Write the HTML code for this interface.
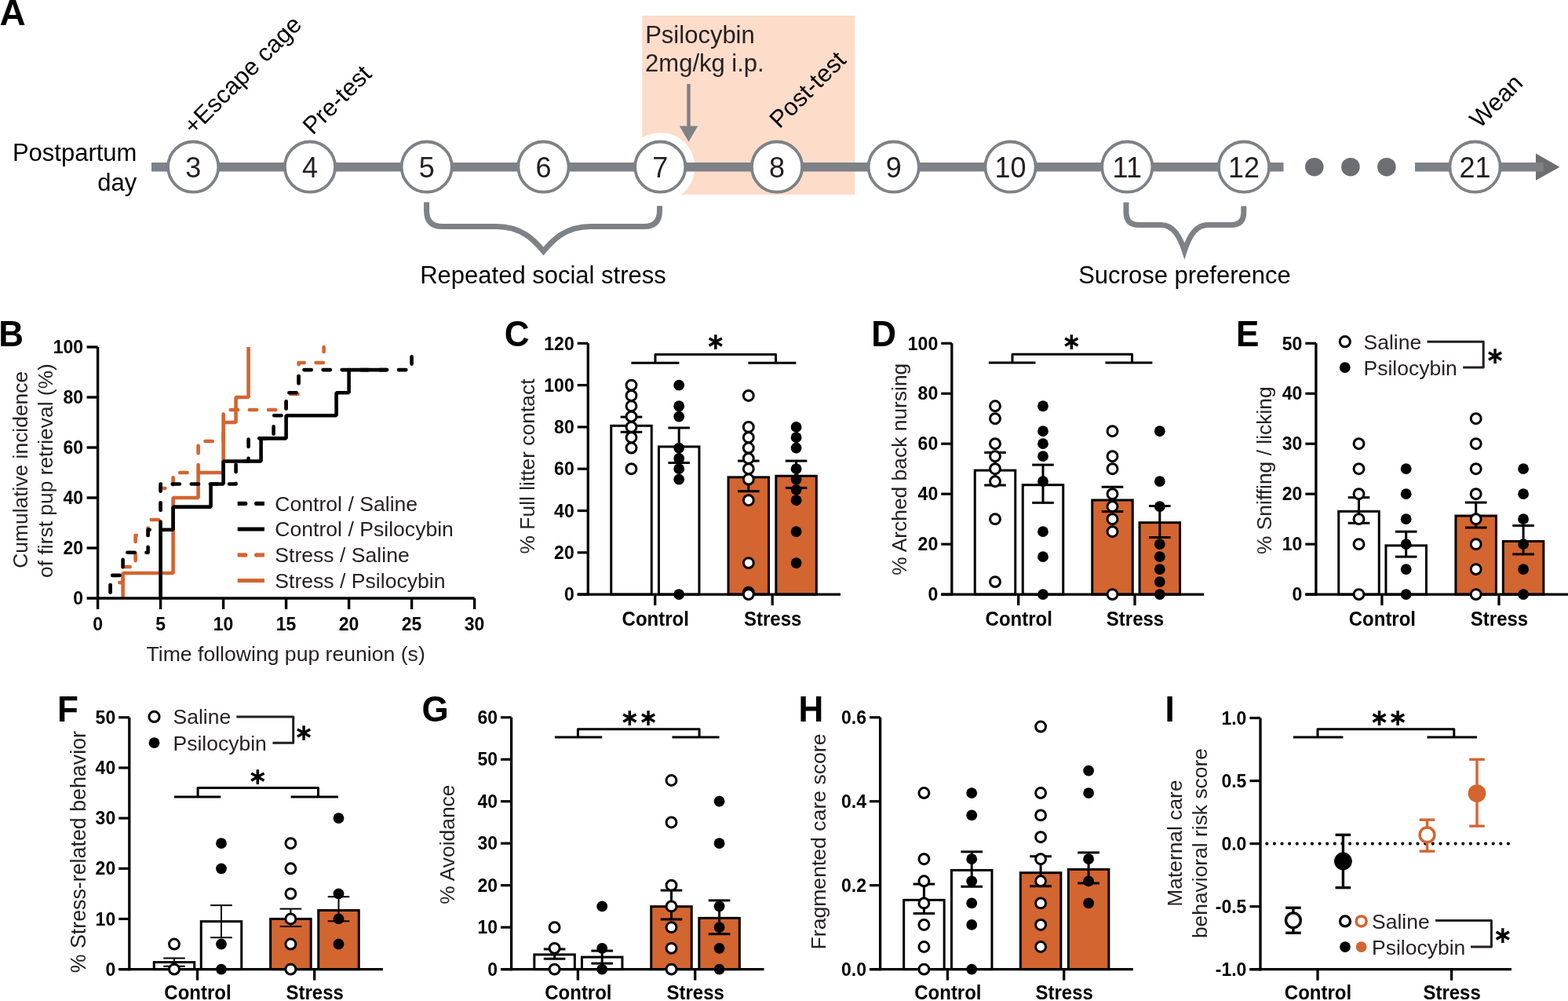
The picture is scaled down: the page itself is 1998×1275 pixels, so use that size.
<!DOCTYPE html>
<html><head><meta charset="utf-8"><title>Figure</title>
<style>
html,body{margin:0;padding:0;background:#fff;}
body{width:1998px;height:1275px;overflow:hidden;}
svg{display:block;font-family:'Liberation Sans', Arial, Helvetica, sans-serif;}
</style></head>
<body>
<svg width="1998" height="1275" viewBox="0 0 1998 1275">
<rect width="1998" height="1275" fill="#fff"/>
<text x="-0.6" y="31.7" font-size="46" font-weight="bold" fill="#000">A</text>
<rect x="818.2" y="20" width="270.8" height="228" fill="#fddcca"/>
<circle cx="841.74" cy="212.7" r="43.8" fill="#fff"/>
<line x1="193" y1="212.7" x2="1635.5" y2="212.7" stroke="#7e8186" stroke-width="11.5" stroke-linecap="butt"/>
<path d="M1957 195.6 L1987.5 212.7 L1957 229.8 Z" fill="#6d6e71"/>
<line x1="1803" y1="212.7" x2="1966.7" y2="212.7" stroke="#7e8186" stroke-width="11.5" stroke-linecap="butt"/>
<circle cx="1674.8" cy="212.7" r="11.8" fill="#6d6e71"/>
<circle cx="1720.9" cy="212.7" r="11.8" fill="#6d6e71"/>
<circle cx="1766.9" cy="212.7" r="11.8" fill="#6d6e71"/>
<circle cx="246.2" cy="212.6" r="32.1" fill="#fff" stroke="#7e8186" stroke-width="3.8"/>
<text x="246.2" y="225.5" font-size="36" text-anchor="middle" fill="#231f20">3</text>
<circle cx="394.96" cy="212.6" r="32.1" fill="#fff" stroke="#7e8186" stroke-width="3.8"/>
<text x="394.96" y="225.5" font-size="36" text-anchor="middle" fill="#231f20">4</text>
<circle cx="543.72" cy="212.6" r="32.1" fill="#fff" stroke="#7e8186" stroke-width="3.8"/>
<text x="543.72" y="225.5" font-size="36" text-anchor="middle" fill="#231f20">5</text>
<circle cx="692.48" cy="212.6" r="32.1" fill="#fff" stroke="#7e8186" stroke-width="3.8"/>
<text x="692.48" y="225.5" font-size="36" text-anchor="middle" fill="#231f20">6</text>
<circle cx="841.24" cy="212.6" r="32.1" fill="#fff" stroke="#7e8186" stroke-width="3.8"/>
<text x="841.24" y="225.5" font-size="36" text-anchor="middle" fill="#231f20">7</text>
<circle cx="990" cy="212.6" r="32.1" fill="#fff" stroke="#7e8186" stroke-width="3.8"/>
<text x="990" y="225.5" font-size="36" text-anchor="middle" fill="#231f20">8</text>
<circle cx="1138.76" cy="212.6" r="32.1" fill="#fff" stroke="#7e8186" stroke-width="3.8"/>
<text x="1138.76" y="225.5" font-size="36" text-anchor="middle" fill="#231f20">9</text>
<circle cx="1287.52" cy="212.6" r="32.1" fill="#fff" stroke="#7e8186" stroke-width="3.8"/>
<text x="1287.52" y="225.5" font-size="36" text-anchor="middle" fill="#231f20">10</text>
<circle cx="1436.28" cy="212.6" r="32.1" fill="#fff" stroke="#7e8186" stroke-width="3.8"/>
<text x="1436.28" y="225.5" font-size="36" text-anchor="middle" fill="#231f20">11</text>
<circle cx="1585.04" cy="212.6" r="32.1" fill="#fff" stroke="#7e8186" stroke-width="3.8"/>
<text x="1585.04" y="225.5" font-size="36" text-anchor="middle" fill="#231f20">12</text>
<circle cx="1879.5" cy="212.6" r="32.1" fill="#fff" stroke="#7e8186" stroke-width="3.8"/>
<text x="1879.5" y="225.5" font-size="36" text-anchor="middle" fill="#231f20">21</text>
<text x="15.9" y="204.5" font-size="31" fill="#000">Postpartum</text>
<text x="124.3" y="242.6" font-size="31" fill="#000">day</text>
<text x="0" y="0" font-size="31" fill="#000" transform="translate(246.7 172.7) rotate(-45)">+Escape cage</text>
<text x="0" y="0" font-size="31" fill="#000" transform="translate(398.4 172.8) rotate(-45)">Pre-test</text>
<text x="0" y="0" font-size="31" fill="#000" transform="translate(993.2 164.8) rotate(-45)">Post-test</text>
<text x="0" y="0" font-size="31" fill="#000" transform="translate(1885.4 164.5) rotate(-45)">Wean</text>
<text x="822.2" y="54.8" font-size="31" fill="#231f20">Psilocybin</text>
<text x="822.1" y="91.4" font-size="31" fill="#231f20">2mg/kg i.p.</text>
<line x1="877.5" y1="107" x2="877.5" y2="163" stroke="#7e8186" stroke-width="4.4" stroke-linecap="butt"/>
<path d="M865.8 160.6 L889.2 160.6 L877.5 180.5 Z" fill="#7e8186"/>
<path d="M543.6 257.4 V268.5 Q543.6 288.5 563.6 288.5 H632.5 C665.5 288.5 681.36 306.73 692.5 320 C703.64 306.73 719.5 288.5 752.5 288.5 H820.5 Q840.5 288.5 840.5 268.5 V262.3" stroke="#7e8186" stroke-width="7" fill="none" stroke-linejoin="miter" stroke-miterlimit="30"/>
<path d="M1435 257.8 V270.5 Q1435 286.5 1451 286.5 H1479.3 C1495.8 286.5 1503.69 302.24 1509.3 319.5 C1514.91 302.24 1522.8 286.5 1539.3 286.5 H1568.8 Q1584.8 286.5 1584.8 270.5 V262.5" stroke="#7e8186" stroke-width="7" fill="none" stroke-linejoin="miter" stroke-miterlimit="30"/>
<text x="535.2" y="361.1" font-size="31" fill="#000">Repeated social stress</text>
<text x="1374.2" y="360.8" font-size="31" fill="#000">Sucrose preference</text>
<text x="0" y="0" font-size="44" font-weight="bold" fill="#000" transform="translate(-1.8 440.8) scale(1 1.04)">B</text>
<text x="0" y="0" font-size="23" font-weight="bold" text-anchor="end" fill="#000" transform="translate(106 770.2) scale(1 1.05)">0</text>
<text x="0" y="0" font-size="23" font-weight="bold" text-anchor="end" fill="#000" transform="translate(106 706.2) scale(1 1.05)">20</text>
<text x="0" y="0" font-size="23" font-weight="bold" text-anchor="end" fill="#000" transform="translate(106 642.2) scale(1 1.05)">40</text>
<text x="0" y="0" font-size="23" font-weight="bold" text-anchor="end" fill="#000" transform="translate(106 578.2) scale(1 1.05)">60</text>
<text x="0" y="0" font-size="23" font-weight="bold" text-anchor="end" fill="#000" transform="translate(106 514.2) scale(1 1.05)">80</text>
<text x="0" y="0" font-size="23" font-weight="bold" text-anchor="end" fill="#000" transform="translate(106 450.2) scale(1 1.05)">100</text>
<text x="0" y="0" font-size="23" font-weight="bold" text-anchor="middle" fill="#000" transform="translate(124.6 802.8) scale(1 1.05)">0</text>
<text x="0" y="0" font-size="23" font-weight="bold" text-anchor="middle" fill="#000" transform="translate(204.6 802.8) scale(1 1.05)">5</text>
<text x="0" y="0" font-size="23" font-weight="bold" text-anchor="middle" fill="#000" transform="translate(284.6 802.8) scale(1 1.05)">10</text>
<text x="0" y="0" font-size="23" font-weight="bold" text-anchor="middle" fill="#000" transform="translate(364.6 802.8) scale(1 1.05)">15</text>
<text x="0" y="0" font-size="23" font-weight="bold" text-anchor="middle" fill="#000" transform="translate(444.6 802.8) scale(1 1.05)">20</text>
<text x="0" y="0" font-size="23" font-weight="bold" text-anchor="middle" fill="#000" transform="translate(524.6 802.8) scale(1 1.05)">25</text>
<text x="0" y="0" font-size="23" font-weight="bold" text-anchor="middle" fill="#000" transform="translate(604.6 802.8) scale(1 1.05)">30</text>
<text x="186.5" y="842.4" font-size="26.6" fill="#231f20">Time following pup reunion (s)</text>
<text x="0" y="0" font-size="26.4" text-anchor="middle" fill="#231f20" transform="translate(35.2 598.3) rotate(-90)">Cumulative incidence</text>
<text x="0" y="0" font-size="26.4" text-anchor="middle" fill="#231f20" transform="translate(67.2 599.5) rotate(-90)">of first pup retrieval (%)</text>
<path d="M140.6 762 V742 H156.6 V722 H172.6 V682 H188.6 V662 H204.6 V622 H220.6 V602 H252.6 V562 H284.6 V522 H364.6 V502 H380.6 V462 H412.6 V442" stroke="#d36530" stroke-width="4.6" fill="none" stroke-dasharray="9.3 14.8" stroke-dashoffset="16.5" stroke-linecap="round" stroke-linejoin="round"/>
<path d="M156.6 762 V730 H220.6 V634 H252.6 V602 H284.6 V538 H300.6 V506 H316.6 V442" stroke="#d36530" stroke-width="4.6" fill="none" stroke-linejoin="bevel"/>
<path d="M140.6 762 V732.91 H156.6 V703.82 H188.6 V674.74 H204.6 V616.56 H300.6 V587.44 H316.6 V558.35 H348.6 V529.26 H364.6 V500.18 H380.6 V471.09 H524.6 V442" stroke="#000" stroke-width="4.6" fill="none" stroke-dasharray="9.3 14.8" stroke-dashoffset="16.5" stroke-linecap="round" stroke-linejoin="round"/>
<path d="M204.6 762 V674.74 H220.6 V645.65 H268.6 V616.56 H284.6 V587.44 H332.6 V558.35 H364.6 V529.26 H428.6 V500.18 H444.6 V471.09 H492.6" stroke="#000" stroke-width="4.6" fill="none" stroke-linejoin="bevel"/>
<line x1="124.6" y1="442" x2="124.6" y2="776" stroke="#000" stroke-width="3.4" stroke-linecap="butt"/>
<line x1="110.6" y1="762" x2="604.6" y2="762" stroke="#000" stroke-width="3.4" stroke-linecap="butt"/>
<line x1="110.6" y1="698" x2="124.6" y2="698" stroke="#000" stroke-width="3.4" stroke-linecap="butt"/>
<line x1="110.6" y1="634" x2="124.6" y2="634" stroke="#000" stroke-width="3.4" stroke-linecap="butt"/>
<line x1="110.6" y1="570" x2="124.6" y2="570" stroke="#000" stroke-width="3.4" stroke-linecap="butt"/>
<line x1="110.6" y1="506" x2="124.6" y2="506" stroke="#000" stroke-width="3.4" stroke-linecap="butt"/>
<line x1="110.6" y1="442" x2="124.6" y2="442" stroke="#000" stroke-width="3.4" stroke-linecap="butt"/>
<line x1="204.6" y1="762" x2="204.6" y2="776" stroke="#000" stroke-width="3.4" stroke-linecap="butt"/>
<line x1="284.6" y1="762" x2="284.6" y2="776" stroke="#000" stroke-width="3.4" stroke-linecap="butt"/>
<line x1="364.6" y1="762" x2="364.6" y2="776" stroke="#000" stroke-width="3.4" stroke-linecap="butt"/>
<line x1="444.6" y1="762" x2="444.6" y2="776" stroke="#000" stroke-width="3.4" stroke-linecap="butt"/>
<line x1="524.6" y1="762" x2="524.6" y2="776" stroke="#000" stroke-width="3.4" stroke-linecap="butt"/>
<line x1="604.6" y1="762" x2="604.6" y2="776" stroke="#000" stroke-width="3.4" stroke-linecap="butt"/>
<line x1="302.7" y1="641.4" x2="312.7" y2="641.4" stroke="#000" stroke-width="5.2" stroke-linecap="butt"/>
<circle cx="312.7" cy="641.4" r="2.6" fill="#000"/>
<line x1="326.7" y1="641.4" x2="336.9" y2="641.4" stroke="#000" stroke-width="5.2" stroke-linecap="butt"/>
<circle cx="326.7" cy="641.4" r="2.6" fill="#000"/>
<line x1="302.7" y1="674" x2="336.9" y2="674" stroke="#000" stroke-width="5.2" stroke-linecap="butt"/>
<line x1="302.7" y1="706.9" x2="312.7" y2="706.9" stroke="#d36530" stroke-width="5.2" stroke-linecap="butt"/>
<circle cx="312.7" cy="706.9" r="2.6" fill="#d36530"/>
<line x1="326.7" y1="706.9" x2="336.9" y2="706.9" stroke="#d36530" stroke-width="5.2" stroke-linecap="butt"/>
<circle cx="326.7" cy="706.9" r="2.6" fill="#d36530"/>
<line x1="302.7" y1="739.5" x2="336.9" y2="739.5" stroke="#d36530" stroke-width="5.2" stroke-linecap="butt"/>
<text x="350.3" y="650.8" font-size="26.6" fill="#231f20">Control / Saline</text>
<text x="350.3" y="683.4" font-size="26.6" fill="#231f20">Control / Psilocybin</text>
<text x="350.3" y="716.3" font-size="26.6" fill="#231f20">Stress / Saline</text>
<text x="350.3" y="748.9" font-size="26.6" fill="#231f20">Stress / Psilocybin</text>
<text x="0" y="0" font-size="44" font-weight="bold" fill="#000" transform="translate(642.8 441) scale(1 1.04)">C</text>
<rect x="778.75" y="542.3" width="51.5" height="214.8" fill="#fff" stroke="#000" stroke-width="3"/>
<rect x="839.45" y="568.95" width="51.5" height="188.15" fill="#fff" stroke="#000" stroke-width="3"/>
<rect x="928.05" y="607.86" width="51.5" height="149.24" fill="#d36530" stroke="#000" stroke-width="3"/>
<rect x="988.85" y="606.26" width="51.5" height="150.84" fill="#d36530" stroke="#000" stroke-width="3"/>
<line x1="749.3" y1="437.3" x2="749.3" y2="758.8" stroke="#000" stroke-width="3.3" stroke-linecap="butt"/>
<line x1="735.7" y1="757.1" x2="1071" y2="757.1" stroke="#000" stroke-width="3.3" stroke-linecap="butt"/>
<line x1="735.7" y1="757.1" x2="749.3" y2="757.1" stroke="#000" stroke-width="3.2" stroke-linecap="butt"/>
<text x="0" y="0" font-size="23" font-weight="bold" text-anchor="end" fill="#000" transform="translate(731.7 765.3) scale(1 1.05)">0</text>
<line x1="735.7" y1="703.8" x2="749.3" y2="703.8" stroke="#000" stroke-width="3.2" stroke-linecap="butt"/>
<text x="0" y="0" font-size="23" font-weight="bold" text-anchor="end" fill="#000" transform="translate(731.7 712) scale(1 1.05)">20</text>
<line x1="735.7" y1="650.5" x2="749.3" y2="650.5" stroke="#000" stroke-width="3.2" stroke-linecap="butt"/>
<text x="0" y="0" font-size="23" font-weight="bold" text-anchor="end" fill="#000" transform="translate(731.7 658.7) scale(1 1.05)">40</text>
<line x1="735.7" y1="597.2" x2="749.3" y2="597.2" stroke="#000" stroke-width="3.2" stroke-linecap="butt"/>
<text x="0" y="0" font-size="23" font-weight="bold" text-anchor="end" fill="#000" transform="translate(731.7 605.4) scale(1 1.05)">60</text>
<line x1="735.7" y1="543.9" x2="749.3" y2="543.9" stroke="#000" stroke-width="3.2" stroke-linecap="butt"/>
<text x="0" y="0" font-size="23" font-weight="bold" text-anchor="end" fill="#000" transform="translate(731.7 552.1) scale(1 1.05)">80</text>
<line x1="735.7" y1="490.6" x2="749.3" y2="490.6" stroke="#000" stroke-width="3.2" stroke-linecap="butt"/>
<text x="0" y="0" font-size="23" font-weight="bold" text-anchor="end" fill="#000" transform="translate(731.7 498.8) scale(1 1.05)">100</text>
<line x1="735.7" y1="437.3" x2="749.3" y2="437.3" stroke="#000" stroke-width="3.2" stroke-linecap="butt"/>
<text x="0" y="0" font-size="23" font-weight="bold" text-anchor="end" fill="#000" transform="translate(731.7 445.5) scale(1 1.05)">120</text>
<line x1="834.7" y1="757.1" x2="834.7" y2="771.1" stroke="#000" stroke-width="3.3" stroke-linecap="butt"/>
<text x="0" y="0" font-size="24" font-weight="bold" text-anchor="middle" fill="#000" transform="translate(835.2 797.1) scale(1 1.05)">Control</text>
<line x1="984.2" y1="757.1" x2="984.2" y2="771.1" stroke="#000" stroke-width="3.3" stroke-linecap="butt"/>
<text x="0" y="0" font-size="24" font-weight="bold" text-anchor="middle" fill="#000" transform="translate(984.7 797.1) scale(1 1.05)">Stress</text>
<line x1="804.5" y1="531.11" x2="804.5" y2="550.3" stroke="#000" stroke-width="3" stroke-linecap="butt"/>
<line x1="790.7" y1="531.11" x2="818.3" y2="531.11" stroke="#000" stroke-width="3" stroke-linecap="butt"/>
<line x1="790.7" y1="550.3" x2="818.3" y2="550.3" stroke="#000" stroke-width="3" stroke-linecap="butt"/>
<line x1="865.2" y1="544.97" x2="865.2" y2="589.47" stroke="#000" stroke-width="3" stroke-linecap="butt"/>
<line x1="851.4" y1="544.97" x2="879" y2="544.97" stroke="#000" stroke-width="3" stroke-linecap="butt"/>
<line x1="851.4" y1="589.47" x2="879" y2="589.47" stroke="#000" stroke-width="3" stroke-linecap="butt"/>
<line x1="953.8" y1="587.07" x2="953.8" y2="625.72" stroke="#000" stroke-width="3" stroke-linecap="butt"/>
<line x1="940" y1="587.07" x2="967.6" y2="587.07" stroke="#000" stroke-width="3" stroke-linecap="butt"/>
<line x1="940" y1="625.72" x2="967.6" y2="625.72" stroke="#000" stroke-width="3" stroke-linecap="butt"/>
<line x1="1014.6" y1="587.07" x2="1014.6" y2="621.45" stroke="#000" stroke-width="3" stroke-linecap="butt"/>
<line x1="1000.8" y1="587.07" x2="1028.4" y2="587.07" stroke="#000" stroke-width="3" stroke-linecap="butt"/>
<line x1="1000.8" y1="621.45" x2="1028.4" y2="621.45" stroke="#000" stroke-width="3" stroke-linecap="butt"/>
<circle cx="804.5" cy="490.6" r="6.45" fill="#fff" stroke="#000" stroke-width="3"/>
<circle cx="804.5" cy="503.93" r="6.45" fill="#fff" stroke="#000" stroke-width="3"/>
<circle cx="804.5" cy="517.25" r="6.45" fill="#fff" stroke="#000" stroke-width="3"/>
<circle cx="804.5" cy="530.58" r="6.45" fill="#fff" stroke="#000" stroke-width="3"/>
<circle cx="804.5" cy="543.9" r="6.45" fill="#fff" stroke="#000" stroke-width="3"/>
<circle cx="804.5" cy="557.23" r="6.45" fill="#fff" stroke="#000" stroke-width="3"/>
<circle cx="804.5" cy="570.55" r="6.45" fill="#fff" stroke="#000" stroke-width="3"/>
<circle cx="804.5" cy="597.2" r="6.45" fill="#fff" stroke="#000" stroke-width="3"/>
<circle cx="865.2" cy="490.6" r="6.9" fill="#000"/>
<circle cx="865.2" cy="517.25" r="6.9" fill="#000"/>
<circle cx="865.2" cy="530.58" r="6.9" fill="#000"/>
<circle cx="865.2" cy="570.55" r="6.9" fill="#000"/>
<circle cx="865.2" cy="583.88" r="6.9" fill="#000"/>
<circle cx="865.2" cy="597.2" r="6.9" fill="#000"/>
<circle cx="865.2" cy="610.53" r="6.9" fill="#000"/>
<circle cx="865.2" cy="757.1" r="6.9" fill="#000"/>
<circle cx="953.8" cy="503.93" r="6.45" fill="#fff" stroke="#000" stroke-width="3"/>
<circle cx="953.8" cy="543.9" r="6.45" fill="#fff" stroke="#000" stroke-width="3"/>
<circle cx="953.8" cy="557.23" r="6.45" fill="#fff" stroke="#000" stroke-width="3"/>
<circle cx="953.8" cy="570.55" r="6.45" fill="#fff" stroke="#000" stroke-width="3"/>
<circle cx="953.8" cy="583.88" r="6.45" fill="#fff" stroke="#000" stroke-width="3"/>
<circle cx="953.8" cy="597.2" r="6.45" fill="#fff" stroke="#000" stroke-width="3"/>
<circle cx="953.8" cy="610.53" r="6.45" fill="#fff" stroke="#000" stroke-width="3"/>
<circle cx="953.8" cy="637.18" r="6.45" fill="#fff" stroke="#000" stroke-width="3"/>
<circle cx="953.8" cy="717.12" r="6.45" fill="#fff" stroke="#000" stroke-width="3"/>
<circle cx="953.8" cy="754.7" r="6.45" fill="#fff" stroke="#000" stroke-width="3"/>
<circle cx="953.8" cy="757.1" r="6.45" fill="#fff" stroke="#000" stroke-width="3"/>
<circle cx="1014.6" cy="543.9" r="6.9" fill="#000"/>
<circle cx="1014.6" cy="557.23" r="6.9" fill="#000"/>
<circle cx="1014.6" cy="570.55" r="6.9" fill="#000"/>
<circle cx="1014.6" cy="597.2" r="6.9" fill="#000"/>
<circle cx="1014.6" cy="610.53" r="6.9" fill="#000"/>
<circle cx="1014.6" cy="623.85" r="6.9" fill="#000"/>
<circle cx="1014.6" cy="637.18" r="6.9" fill="#000"/>
<circle cx="1014.6" cy="677.15" r="6.9" fill="#000"/>
<circle cx="1014.6" cy="717.12" r="6.9" fill="#000"/>
<text x="0" y="0" font-size="26.4" text-anchor="middle" fill="#231f20" transform="translate(681.2 594) rotate(-90)">% Full litter contact</text>
<line x1="804.4" y1="462.3" x2="865.4" y2="462.3" stroke="#000" stroke-width="3" stroke-linecap="butt"/>
<line x1="953.4" y1="462.3" x2="1014.4" y2="462.3" stroke="#000" stroke-width="3" stroke-linecap="butt"/>
<path d="M835 462.3 V451.5 H988.5 V462.3" stroke="#000" stroke-width="3" fill="none" stroke-linejoin="round"/>
<text x="911.8" y="444.85" font-size="30" font-family="'DejaVu Sans', sans-serif" font-weight="bold" text-anchor="middle" fill="#000">&#8727;</text>
<text x="0" y="0" font-size="44" font-weight="bold" fill="#000" transform="translate(1110.2 441) scale(1 1.04)">D</text>
<rect x="1242.25" y="599.12" width="51.5" height="157.98" fill="#fff" stroke="#000" stroke-width="3"/>
<rect x="1303.25" y="617.67" width="51.5" height="139.43" fill="#fff" stroke="#000" stroke-width="3"/>
<rect x="1391.75" y="637.02" width="51.5" height="120.08" fill="#d36530" stroke="#000" stroke-width="3"/>
<rect x="1452.05" y="665.64" width="51.5" height="91.46" fill="#d36530" stroke="#000" stroke-width="3"/>
<line x1="1212.8" y1="437.3" x2="1212.8" y2="758.8" stroke="#000" stroke-width="3.3" stroke-linecap="butt"/>
<line x1="1199.2" y1="757.1" x2="1534.2" y2="757.1" stroke="#000" stroke-width="3.3" stroke-linecap="butt"/>
<line x1="1199.2" y1="757.1" x2="1212.8" y2="757.1" stroke="#000" stroke-width="3.2" stroke-linecap="butt"/>
<text x="0" y="0" font-size="23" font-weight="bold" text-anchor="end" fill="#000" transform="translate(1195.2 765.3) scale(1 1.05)">0</text>
<line x1="1199.2" y1="693.14" x2="1212.8" y2="693.14" stroke="#000" stroke-width="3.2" stroke-linecap="butt"/>
<text x="0" y="0" font-size="23" font-weight="bold" text-anchor="end" fill="#000" transform="translate(1195.2 701.34) scale(1 1.05)">20</text>
<line x1="1199.2" y1="629.18" x2="1212.8" y2="629.18" stroke="#000" stroke-width="3.2" stroke-linecap="butt"/>
<text x="0" y="0" font-size="23" font-weight="bold" text-anchor="end" fill="#000" transform="translate(1195.2 637.38) scale(1 1.05)">40</text>
<line x1="1199.2" y1="565.22" x2="1212.8" y2="565.22" stroke="#000" stroke-width="3.2" stroke-linecap="butt"/>
<text x="0" y="0" font-size="23" font-weight="bold" text-anchor="end" fill="#000" transform="translate(1195.2 573.42) scale(1 1.05)">60</text>
<line x1="1199.2" y1="501.26" x2="1212.8" y2="501.26" stroke="#000" stroke-width="3.2" stroke-linecap="butt"/>
<text x="0" y="0" font-size="23" font-weight="bold" text-anchor="end" fill="#000" transform="translate(1195.2 509.46) scale(1 1.05)">80</text>
<line x1="1199.2" y1="437.3" x2="1212.8" y2="437.3" stroke="#000" stroke-width="3.2" stroke-linecap="butt"/>
<text x="0" y="0" font-size="23" font-weight="bold" text-anchor="end" fill="#000" transform="translate(1195.2 445.5) scale(1 1.05)">100</text>
<line x1="1297.7" y1="757.1" x2="1297.7" y2="771.1" stroke="#000" stroke-width="3.3" stroke-linecap="butt"/>
<text x="0" y="0" font-size="24" font-weight="bold" text-anchor="middle" fill="#000" transform="translate(1298.2 797.1) scale(1 1.05)">Control</text>
<line x1="1446" y1="757.1" x2="1446" y2="771.1" stroke="#000" stroke-width="3.3" stroke-linecap="butt"/>
<text x="0" y="0" font-size="24" font-weight="bold" text-anchor="middle" fill="#000" transform="translate(1446.5 797.1) scale(1 1.05)">Stress</text>
<line x1="1268" y1="576.41" x2="1268" y2="617.99" stroke="#000" stroke-width="3" stroke-linecap="butt"/>
<line x1="1254.2" y1="576.41" x2="1281.8" y2="576.41" stroke="#000" stroke-width="3" stroke-linecap="butt"/>
<line x1="1254.2" y1="617.99" x2="1281.8" y2="617.99" stroke="#000" stroke-width="3" stroke-linecap="butt"/>
<line x1="1329" y1="592.08" x2="1329" y2="640.37" stroke="#000" stroke-width="3" stroke-linecap="butt"/>
<line x1="1315.2" y1="592.08" x2="1342.8" y2="592.08" stroke="#000" stroke-width="3" stroke-linecap="butt"/>
<line x1="1315.2" y1="640.37" x2="1342.8" y2="640.37" stroke="#000" stroke-width="3" stroke-linecap="butt"/>
<line x1="1417.5" y1="620.23" x2="1417.5" y2="651.57" stroke="#000" stroke-width="3" stroke-linecap="butt"/>
<line x1="1403.7" y1="620.23" x2="1431.3" y2="620.23" stroke="#000" stroke-width="3" stroke-linecap="butt"/>
<line x1="1403.7" y1="651.57" x2="1431.3" y2="651.57" stroke="#000" stroke-width="3" stroke-linecap="butt"/>
<line x1="1477.8" y1="644.53" x2="1477.8" y2="684.51" stroke="#000" stroke-width="3" stroke-linecap="butt"/>
<line x1="1464" y1="644.53" x2="1491.6" y2="644.53" stroke="#000" stroke-width="3" stroke-linecap="butt"/>
<line x1="1464" y1="684.51" x2="1491.6" y2="684.51" stroke="#000" stroke-width="3" stroke-linecap="butt"/>
<circle cx="1268" cy="517.25" r="6.45" fill="#fff" stroke="#000" stroke-width="3"/>
<circle cx="1268" cy="533.24" r="6.45" fill="#fff" stroke="#000" stroke-width="3"/>
<circle cx="1268" cy="565.22" r="6.45" fill="#fff" stroke="#000" stroke-width="3"/>
<circle cx="1268" cy="581.21" r="6.45" fill="#fff" stroke="#000" stroke-width="3"/>
<circle cx="1268" cy="597.2" r="6.45" fill="#fff" stroke="#000" stroke-width="3"/>
<circle cx="1268" cy="613.19" r="6.45" fill="#fff" stroke="#000" stroke-width="3"/>
<circle cx="1268" cy="661.16" r="6.45" fill="#fff" stroke="#000" stroke-width="3"/>
<circle cx="1268" cy="741.11" r="6.45" fill="#fff" stroke="#000" stroke-width="3"/>
<circle cx="1329" cy="517.25" r="6.9" fill="#000"/>
<circle cx="1329" cy="549.23" r="6.9" fill="#000"/>
<circle cx="1329" cy="565.22" r="6.9" fill="#000"/>
<circle cx="1329" cy="581.21" r="6.9" fill="#000"/>
<circle cx="1329" cy="613.19" r="6.9" fill="#000"/>
<circle cx="1329" cy="677.15" r="6.9" fill="#000"/>
<circle cx="1329" cy="709.13" r="6.9" fill="#000"/>
<circle cx="1329" cy="757.1" r="6.9" fill="#000"/>
<circle cx="1417.5" cy="549.23" r="6.45" fill="#fff" stroke="#000" stroke-width="3"/>
<circle cx="1417.5" cy="581.21" r="6.45" fill="#fff" stroke="#000" stroke-width="3"/>
<circle cx="1417.5" cy="597.2" r="6.45" fill="#fff" stroke="#000" stroke-width="3"/>
<circle cx="1417.5" cy="629.18" r="6.45" fill="#fff" stroke="#000" stroke-width="3"/>
<circle cx="1417.5" cy="645.17" r="6.45" fill="#fff" stroke="#000" stroke-width="3"/>
<circle cx="1417.5" cy="661.16" r="6.45" fill="#fff" stroke="#000" stroke-width="3"/>
<circle cx="1417.5" cy="677.15" r="6.45" fill="#fff" stroke="#000" stroke-width="3"/>
<circle cx="1417.5" cy="757.1" r="6.45" fill="#fff" stroke="#000" stroke-width="3"/>
<circle cx="1477.8" cy="549.23" r="6.9" fill="#000"/>
<circle cx="1477.8" cy="613.19" r="6.9" fill="#000"/>
<circle cx="1477.8" cy="645.17" r="6.9" fill="#000"/>
<circle cx="1477.8" cy="693.14" r="6.9" fill="#000"/>
<circle cx="1477.8" cy="709.13" r="6.9" fill="#000"/>
<circle cx="1477.8" cy="725.12" r="6.9" fill="#000"/>
<circle cx="1477.8" cy="741.11" r="6.9" fill="#000"/>
<circle cx="1477.8" cy="757.1" r="6.9" fill="#000"/>
<text x="0" y="0" font-size="26.4" text-anchor="middle" fill="#231f20" transform="translate(1155 597.7) rotate(-90)">% Arched back nursing</text>
<line x1="1259.8" y1="461.9" x2="1319.5" y2="461.9" stroke="#000" stroke-width="3" stroke-linecap="butt"/>
<line x1="1408.5" y1="461.9" x2="1468.4" y2="461.9" stroke="#000" stroke-width="3" stroke-linecap="butt"/>
<path d="M1290 461.9 V451.3 H1442.5 V461.9" stroke="#000" stroke-width="3" fill="none" stroke-linejoin="round"/>
<text x="1365.2" y="444.85" font-size="30" font-family="'DejaVu Sans', sans-serif" font-weight="bold" text-anchor="middle" fill="#000">&#8727;</text>
<text x="0" y="0" font-size="44" font-weight="bold" fill="#000" transform="translate(1575.1 441) scale(1 1.04)">E</text>
<rect x="1705.75" y="651.37" width="51.5" height="105.73" fill="#fff" stroke="#000" stroke-width="3"/>
<rect x="1765.95" y="694.87" width="51.5" height="62.23" fill="#fff" stroke="#000" stroke-width="3"/>
<rect x="1854.95" y="657" width="51.5" height="100.1" fill="#d36530" stroke="#000" stroke-width="3"/>
<rect x="1915.35" y="689.49" width="51.5" height="67.61" fill="#d36530" stroke="#000" stroke-width="3"/>
<line x1="1676.9" y1="437.3" x2="1676.9" y2="758.8" stroke="#000" stroke-width="3.3" stroke-linecap="butt"/>
<line x1="1663.3" y1="757.1" x2="2000" y2="757.1" stroke="#000" stroke-width="3.3" stroke-linecap="butt"/>
<line x1="1663.3" y1="757.1" x2="1676.9" y2="757.1" stroke="#000" stroke-width="3.2" stroke-linecap="butt"/>
<text x="0" y="0" font-size="23" font-weight="bold" text-anchor="end" fill="#000" transform="translate(1659.3 765.3) scale(1 1.05)">0</text>
<line x1="1663.3" y1="693.14" x2="1676.9" y2="693.14" stroke="#000" stroke-width="3.2" stroke-linecap="butt"/>
<text x="0" y="0" font-size="23" font-weight="bold" text-anchor="end" fill="#000" transform="translate(1659.3 701.34) scale(1 1.05)">10</text>
<line x1="1663.3" y1="629.18" x2="1676.9" y2="629.18" stroke="#000" stroke-width="3.2" stroke-linecap="butt"/>
<text x="0" y="0" font-size="23" font-weight="bold" text-anchor="end" fill="#000" transform="translate(1659.3 637.38) scale(1 1.05)">20</text>
<line x1="1663.3" y1="565.22" x2="1676.9" y2="565.22" stroke="#000" stroke-width="3.2" stroke-linecap="butt"/>
<text x="0" y="0" font-size="23" font-weight="bold" text-anchor="end" fill="#000" transform="translate(1659.3 573.42) scale(1 1.05)">30</text>
<line x1="1663.3" y1="501.26" x2="1676.9" y2="501.26" stroke="#000" stroke-width="3.2" stroke-linecap="butt"/>
<text x="0" y="0" font-size="23" font-weight="bold" text-anchor="end" fill="#000" transform="translate(1659.3 509.46) scale(1 1.05)">40</text>
<line x1="1663.3" y1="437.3" x2="1676.9" y2="437.3" stroke="#000" stroke-width="3.2" stroke-linecap="butt"/>
<text x="0" y="0" font-size="23" font-weight="bold" text-anchor="end" fill="#000" transform="translate(1659.3 445.5) scale(1 1.05)">50</text>
<line x1="1760.9" y1="757.1" x2="1760.9" y2="771.1" stroke="#000" stroke-width="3.3" stroke-linecap="butt"/>
<text x="0" y="0" font-size="24" font-weight="bold" text-anchor="middle" fill="#000" transform="translate(1761.4 797.1) scale(1 1.05)">Control</text>
<line x1="1910" y1="757.1" x2="1910" y2="771.1" stroke="#000" stroke-width="3.3" stroke-linecap="butt"/>
<text x="0" y="0" font-size="24" font-weight="bold" text-anchor="middle" fill="#000" transform="translate(1910.5 797.1) scale(1 1.05)">Stress</text>
<line x1="1731.5" y1="633.66" x2="1731.5" y2="666.28" stroke="#000" stroke-width="3" stroke-linecap="butt"/>
<line x1="1717.7" y1="633.66" x2="1745.3" y2="633.66" stroke="#000" stroke-width="3" stroke-linecap="butt"/>
<line x1="1717.7" y1="666.28" x2="1745.3" y2="666.28" stroke="#000" stroke-width="3" stroke-linecap="butt"/>
<line x1="1791.7" y1="677.15" x2="1791.7" y2="709.13" stroke="#000" stroke-width="3" stroke-linecap="butt"/>
<line x1="1777.9" y1="677.15" x2="1805.5" y2="677.15" stroke="#000" stroke-width="3" stroke-linecap="butt"/>
<line x1="1777.9" y1="709.13" x2="1805.5" y2="709.13" stroke="#000" stroke-width="3" stroke-linecap="butt"/>
<line x1="1880.7" y1="640.05" x2="1880.7" y2="672.03" stroke="#000" stroke-width="3" stroke-linecap="butt"/>
<line x1="1866.9" y1="640.05" x2="1894.5" y2="640.05" stroke="#000" stroke-width="3" stroke-linecap="butt"/>
<line x1="1866.9" y1="672.03" x2="1894.5" y2="672.03" stroke="#000" stroke-width="3" stroke-linecap="butt"/>
<line x1="1941.1" y1="669.47" x2="1941.1" y2="705.93" stroke="#000" stroke-width="3" stroke-linecap="butt"/>
<line x1="1927.3" y1="669.47" x2="1954.9" y2="669.47" stroke="#000" stroke-width="3" stroke-linecap="butt"/>
<line x1="1927.3" y1="705.93" x2="1954.9" y2="705.93" stroke="#000" stroke-width="3" stroke-linecap="butt"/>
<circle cx="1731.5" cy="565.22" r="6.45" fill="#fff" stroke="#000" stroke-width="3"/>
<circle cx="1731.5" cy="597.2" r="6.45" fill="#fff" stroke="#000" stroke-width="3"/>
<circle cx="1731.5" cy="629.18" r="6.45" fill="#fff" stroke="#000" stroke-width="3"/>
<circle cx="1731.5" cy="661.16" r="6.45" fill="#fff" stroke="#000" stroke-width="3"/>
<circle cx="1731.5" cy="693.14" r="6.45" fill="#fff" stroke="#000" stroke-width="3"/>
<circle cx="1731.5" cy="757.1" r="6.45" fill="#fff" stroke="#000" stroke-width="3"/>
<circle cx="1791.7" cy="597.2" r="6.9" fill="#000"/>
<circle cx="1791.7" cy="629.18" r="6.9" fill="#000"/>
<circle cx="1791.7" cy="661.16" r="6.9" fill="#000"/>
<circle cx="1791.7" cy="693.14" r="6.9" fill="#000"/>
<circle cx="1791.7" cy="725.12" r="6.9" fill="#000"/>
<circle cx="1791.7" cy="757.1" r="6.9" fill="#000"/>
<circle cx="1880.7" cy="533.24" r="6.45" fill="#fff" stroke="#000" stroke-width="3"/>
<circle cx="1880.7" cy="565.22" r="6.45" fill="#fff" stroke="#000" stroke-width="3"/>
<circle cx="1880.7" cy="597.2" r="6.45" fill="#fff" stroke="#000" stroke-width="3"/>
<circle cx="1880.7" cy="629.18" r="6.45" fill="#fff" stroke="#000" stroke-width="3"/>
<circle cx="1880.7" cy="661.16" r="6.45" fill="#fff" stroke="#000" stroke-width="3"/>
<circle cx="1880.7" cy="693.14" r="6.45" fill="#fff" stroke="#000" stroke-width="3"/>
<circle cx="1880.7" cy="725.12" r="6.45" fill="#fff" stroke="#000" stroke-width="3"/>
<circle cx="1880.7" cy="757.1" r="6.45" fill="#fff" stroke="#000" stroke-width="3"/>
<circle cx="1941.1" cy="597.2" r="6.9" fill="#000"/>
<circle cx="1941.1" cy="629.18" r="6.9" fill="#000"/>
<circle cx="1941.1" cy="661.16" r="6.9" fill="#000"/>
<circle cx="1941.1" cy="693.14" r="6.9" fill="#000"/>
<circle cx="1941.1" cy="725.12" r="6.9" fill="#000"/>
<circle cx="1941.1" cy="757.1" r="6.9" fill="#000"/>
<text x="0" y="0" font-size="26.4" text-anchor="middle" fill="#231f20" transform="translate(1619.5 599.2) rotate(-90)">% Sniffing / licking</text>
<circle cx="1713.8" cy="435.2" r="6.6" fill="#fff" stroke="#000" stroke-width="3"/>
<circle cx="1713.8" cy="468.1" r="6.9" fill="#000"/>
<text x="1737.5" y="444.5" font-size="26.5" fill="#231f20">Saline</text>
<text x="1737.5" y="477.5" font-size="26.5" fill="#231f20">Psilocybin</text>
<path d="M1818.5 435.2 H1890.2 V468.1 H1864.2" stroke="#231f20" stroke-width="3" fill="none" stroke-linejoin="round"/>
<text x="1905" y="462.85" font-size="30" font-family="'DejaVu Sans', sans-serif" font-weight="bold" text-anchor="middle" fill="#000">&#8727;</text>
<text x="0" y="0" font-size="44" font-weight="bold" fill="#000" transform="translate(73.1 918.8) scale(1 1.04)">F</text>
<rect x="196.25" y="1225.62" width="51.5" height="8.98" fill="#fff" stroke="#000" stroke-width="3"/>
<rect x="256.25" y="1173.65" width="51.5" height="60.95" fill="#fff" stroke="#000" stroke-width="3"/>
<rect x="344.65" y="1170.44" width="51.5" height="64.16" fill="#d36530" stroke="#000" stroke-width="3"/>
<rect x="405.75" y="1159.53" width="51.5" height="75.07" fill="#d36530" stroke="#000" stroke-width="3"/>
<line x1="164.8" y1="913.8" x2="164.8" y2="1236.3" stroke="#000" stroke-width="3.3" stroke-linecap="butt"/>
<line x1="151.2" y1="1234.6" x2="487.9" y2="1234.6" stroke="#000" stroke-width="3.3" stroke-linecap="butt"/>
<line x1="151.2" y1="1234.6" x2="164.8" y2="1234.6" stroke="#000" stroke-width="3.2" stroke-linecap="butt"/>
<text x="0" y="0" font-size="23" font-weight="bold" text-anchor="end" fill="#000" transform="translate(147.2 1242.8) scale(1 1.05)">0</text>
<line x1="151.2" y1="1170.44" x2="164.8" y2="1170.44" stroke="#000" stroke-width="3.2" stroke-linecap="butt"/>
<text x="0" y="0" font-size="23" font-weight="bold" text-anchor="end" fill="#000" transform="translate(147.2 1178.64) scale(1 1.05)">10</text>
<line x1="151.2" y1="1106.28" x2="164.8" y2="1106.28" stroke="#000" stroke-width="3.2" stroke-linecap="butt"/>
<text x="0" y="0" font-size="23" font-weight="bold" text-anchor="end" fill="#000" transform="translate(147.2 1114.48) scale(1 1.05)">20</text>
<line x1="151.2" y1="1042.12" x2="164.8" y2="1042.12" stroke="#000" stroke-width="3.2" stroke-linecap="butt"/>
<text x="0" y="0" font-size="23" font-weight="bold" text-anchor="end" fill="#000" transform="translate(147.2 1050.32) scale(1 1.05)">30</text>
<line x1="151.2" y1="977.96" x2="164.8" y2="977.96" stroke="#000" stroke-width="3.2" stroke-linecap="butt"/>
<text x="0" y="0" font-size="23" font-weight="bold" text-anchor="end" fill="#000" transform="translate(147.2 986.16) scale(1 1.05)">40</text>
<line x1="151.2" y1="913.8" x2="164.8" y2="913.8" stroke="#000" stroke-width="3.2" stroke-linecap="butt"/>
<text x="0" y="0" font-size="23" font-weight="bold" text-anchor="end" fill="#000" transform="translate(147.2 922) scale(1 1.05)">50</text>
<line x1="251.5" y1="1234.6" x2="251.5" y2="1248.6" stroke="#000" stroke-width="3.3" stroke-linecap="butt"/>
<text x="0" y="0" font-size="24" font-weight="bold" text-anchor="middle" fill="#000" transform="translate(252 1272.7) scale(1 1.05)">Control</text>
<line x1="400.7" y1="1234.6" x2="400.7" y2="1248.6" stroke="#000" stroke-width="3.3" stroke-linecap="butt"/>
<text x="0" y="0" font-size="24" font-weight="bold" text-anchor="middle" fill="#000" transform="translate(401.2 1272.7) scale(1 1.05)">Stress</text>
<line x1="222" y1="1220.48" x2="222" y2="1230.75" stroke="#000" stroke-width="2" stroke-linecap="butt"/>
<line x1="208.2" y1="1220.48" x2="235.8" y2="1220.48" stroke="#000" stroke-width="2" stroke-linecap="butt"/>
<line x1="208.2" y1="1230.75" x2="235.8" y2="1230.75" stroke="#000" stroke-width="2" stroke-linecap="butt"/>
<line x1="282" y1="1153.12" x2="282" y2="1194.18" stroke="#000" stroke-width="2" stroke-linecap="butt"/>
<line x1="268.2" y1="1153.12" x2="295.8" y2="1153.12" stroke="#000" stroke-width="2" stroke-linecap="butt"/>
<line x1="268.2" y1="1194.18" x2="295.8" y2="1194.18" stroke="#000" stroke-width="2" stroke-linecap="butt"/>
<line x1="370.4" y1="1157.61" x2="370.4" y2="1180.06" stroke="#000" stroke-width="2" stroke-linecap="butt"/>
<line x1="356.6" y1="1157.61" x2="384.2" y2="1157.61" stroke="#000" stroke-width="2" stroke-linecap="butt"/>
<line x1="356.6" y1="1180.06" x2="384.2" y2="1180.06" stroke="#000" stroke-width="2" stroke-linecap="butt"/>
<line x1="431.5" y1="1142.21" x2="431.5" y2="1173.33" stroke="#000" stroke-width="2" stroke-linecap="butt"/>
<line x1="417.7" y1="1142.21" x2="445.3" y2="1142.21" stroke="#000" stroke-width="2" stroke-linecap="butt"/>
<line x1="417.7" y1="1173.33" x2="445.3" y2="1173.33" stroke="#000" stroke-width="2" stroke-linecap="butt"/>
<circle cx="222" cy="1202.52" r="6.45" fill="#fff" stroke="#000" stroke-width="3"/>
<circle cx="222" cy="1234.6" r="6.45" fill="#fff" stroke="#000" stroke-width="3"/>
<circle cx="282" cy="1074.2" r="6.9" fill="#000"/>
<circle cx="282" cy="1106.28" r="6.9" fill="#000"/>
<circle cx="282" cy="1202.52" r="6.9" fill="#000"/>
<circle cx="282" cy="1234.6" r="6.9" fill="#000"/>
<circle cx="370.4" cy="1074.2" r="6.45" fill="#fff" stroke="#000" stroke-width="3"/>
<circle cx="370.4" cy="1106.28" r="6.45" fill="#fff" stroke="#000" stroke-width="3"/>
<circle cx="370.4" cy="1138.36" r="6.45" fill="#fff" stroke="#000" stroke-width="3"/>
<circle cx="370.4" cy="1170.44" r="6.45" fill="#fff" stroke="#000" stroke-width="3"/>
<circle cx="370.4" cy="1202.52" r="6.45" fill="#fff" stroke="#000" stroke-width="3"/>
<circle cx="370.4" cy="1234.6" r="6.45" fill="#fff" stroke="#000" stroke-width="3"/>
<circle cx="431.5" cy="1042.12" r="6.9" fill="#000"/>
<circle cx="431.5" cy="1138.36" r="6.9" fill="#000"/>
<circle cx="431.5" cy="1170.44" r="6.9" fill="#000"/>
<circle cx="431.5" cy="1202.52" r="6.9" fill="#000"/>
<text x="0" y="0" font-size="26.8" text-anchor="middle" fill="#231f20" transform="translate(108.7 1085.2) rotate(-90)">% Stress-related behavior</text>
<line x1="222" y1="1015.1" x2="281.3" y2="1015.1" stroke="#000" stroke-width="3" stroke-linecap="butt"/>
<line x1="370.6" y1="1015.1" x2="430.9" y2="1015.1" stroke="#000" stroke-width="3" stroke-linecap="butt"/>
<path d="M252.1 1015.1 V1003.4 H405.5 V1015.1" stroke="#000" stroke-width="3" fill="none" stroke-linejoin="round"/>
<text x="328.3" y="998.95" font-size="30" font-family="'DejaVu Sans', sans-serif" font-weight="bold" text-anchor="middle" fill="#000">&#8727;</text>
<circle cx="196.5" cy="912.9" r="6.6" fill="#fff" stroke="#000" stroke-width="3"/>
<circle cx="196.5" cy="946.2" r="6.9" fill="#000"/>
<text x="220.5" y="922.2" font-size="26.5" fill="#231f20">Saline</text>
<text x="220.5" y="955.6" font-size="26.5" fill="#231f20">Psilocybin</text>
<path d="M301.3 912.9 H373.7 V946.2 H347.4" stroke="#231f20" stroke-width="3" fill="none" stroke-linejoin="round"/>
<text x="387" y="942.95" font-size="30" font-family="'DejaVu Sans', sans-serif" font-weight="bold" text-anchor="middle" fill="#000">&#8727;</text>
<text x="0" y="0" font-size="44" font-weight="bold" fill="#000" transform="translate(537.5 918.8) scale(1 1.04)">G</text>
<rect x="680.85" y="1215.89" width="51.5" height="18.71" fill="#fff" stroke="#000" stroke-width="3"/>
<rect x="741.45" y="1219.09" width="51.5" height="15.51" fill="#fff" stroke="#000" stroke-width="3"/>
<rect x="829.75" y="1154.67" width="51.5" height="79.93" fill="#d36530" stroke="#000" stroke-width="3"/>
<rect x="890.85" y="1169.37" width="51.5" height="65.23" fill="#d36530" stroke="#000" stroke-width="3"/>
<line x1="651.6" y1="913.8" x2="651.6" y2="1236.3" stroke="#000" stroke-width="3.3" stroke-linecap="butt"/>
<line x1="638" y1="1234.6" x2="973.5" y2="1234.6" stroke="#000" stroke-width="3.3" stroke-linecap="butt"/>
<line x1="638" y1="1234.6" x2="651.6" y2="1234.6" stroke="#000" stroke-width="3.2" stroke-linecap="butt"/>
<text x="0" y="0" font-size="23" font-weight="bold" text-anchor="end" fill="#000" transform="translate(634 1242.8) scale(1 1.05)">0</text>
<line x1="638" y1="1181.13" x2="651.6" y2="1181.13" stroke="#000" stroke-width="3.2" stroke-linecap="butt"/>
<text x="0" y="0" font-size="23" font-weight="bold" text-anchor="end" fill="#000" transform="translate(634 1189.33) scale(1 1.05)">10</text>
<line x1="638" y1="1127.67" x2="651.6" y2="1127.67" stroke="#000" stroke-width="3.2" stroke-linecap="butt"/>
<text x="0" y="0" font-size="23" font-weight="bold" text-anchor="end" fill="#000" transform="translate(634 1135.87) scale(1 1.05)">20</text>
<line x1="638" y1="1074.2" x2="651.6" y2="1074.2" stroke="#000" stroke-width="3.2" stroke-linecap="butt"/>
<text x="0" y="0" font-size="23" font-weight="bold" text-anchor="end" fill="#000" transform="translate(634 1082.4) scale(1 1.05)">30</text>
<line x1="638" y1="1020.73" x2="651.6" y2="1020.73" stroke="#000" stroke-width="3.2" stroke-linecap="butt"/>
<text x="0" y="0" font-size="23" font-weight="bold" text-anchor="end" fill="#000" transform="translate(634 1028.93) scale(1 1.05)">40</text>
<line x1="638" y1="967.27" x2="651.6" y2="967.27" stroke="#000" stroke-width="3.2" stroke-linecap="butt"/>
<text x="0" y="0" font-size="23" font-weight="bold" text-anchor="end" fill="#000" transform="translate(634 975.47) scale(1 1.05)">50</text>
<line x1="638" y1="913.8" x2="651.6" y2="913.8" stroke="#000" stroke-width="3.2" stroke-linecap="butt"/>
<text x="0" y="0" font-size="23" font-weight="bold" text-anchor="end" fill="#000" transform="translate(634 922) scale(1 1.05)">60</text>
<line x1="736.4" y1="1234.6" x2="736.4" y2="1248.6" stroke="#000" stroke-width="3.3" stroke-linecap="butt"/>
<text x="0" y="0" font-size="24" font-weight="bold" text-anchor="middle" fill="#000" transform="translate(736.9 1272.7) scale(1 1.05)">Control</text>
<line x1="885.7" y1="1234.6" x2="885.7" y2="1248.6" stroke="#000" stroke-width="3.3" stroke-linecap="butt"/>
<text x="0" y="0" font-size="24" font-weight="bold" text-anchor="middle" fill="#000" transform="translate(886.2 1272.7) scale(1 1.05)">Stress</text>
<line x1="706.6" y1="1208.94" x2="706.6" y2="1221.23" stroke="#000" stroke-width="3" stroke-linecap="butt"/>
<line x1="692.8" y1="1208.94" x2="720.4" y2="1208.94" stroke="#000" stroke-width="3" stroke-linecap="butt"/>
<line x1="692.8" y1="1221.23" x2="720.4" y2="1221.23" stroke="#000" stroke-width="3" stroke-linecap="butt"/>
<line x1="767.2" y1="1211.07" x2="767.2" y2="1227.11" stroke="#000" stroke-width="3" stroke-linecap="butt"/>
<line x1="753.4" y1="1211.07" x2="781" y2="1211.07" stroke="#000" stroke-width="3" stroke-linecap="butt"/>
<line x1="753.4" y1="1227.11" x2="781" y2="1227.11" stroke="#000" stroke-width="3" stroke-linecap="butt"/>
<line x1="855.5" y1="1134.08" x2="855.5" y2="1170.97" stroke="#000" stroke-width="3" stroke-linecap="butt"/>
<line x1="841.7" y1="1134.08" x2="869.3" y2="1134.08" stroke="#000" stroke-width="3" stroke-linecap="butt"/>
<line x1="841.7" y1="1170.97" x2="869.3" y2="1170.97" stroke="#000" stroke-width="3" stroke-linecap="butt"/>
<line x1="916.6" y1="1146.91" x2="916.6" y2="1189.69" stroke="#000" stroke-width="3" stroke-linecap="butt"/>
<line x1="902.8" y1="1146.91" x2="930.4" y2="1146.91" stroke="#000" stroke-width="3" stroke-linecap="butt"/>
<line x1="902.8" y1="1189.69" x2="930.4" y2="1189.69" stroke="#000" stroke-width="3" stroke-linecap="butt"/>
<circle cx="706.6" cy="1181.13" r="6.45" fill="#fff" stroke="#000" stroke-width="3"/>
<circle cx="706.6" cy="1207.87" r="6.45" fill="#fff" stroke="#000" stroke-width="3"/>
<circle cx="706.6" cy="1234.6" r="6.45" fill="#fff" stroke="#000" stroke-width="3"/>
<circle cx="767.2" cy="1154.4" r="6.9" fill="#000"/>
<circle cx="767.2" cy="1207.87" r="6.9" fill="#000"/>
<circle cx="767.2" cy="1234.6" r="6.9" fill="#000"/>
<circle cx="855.5" cy="994" r="6.45" fill="#fff" stroke="#000" stroke-width="3"/>
<circle cx="855.5" cy="1047.47" r="6.45" fill="#fff" stroke="#000" stroke-width="3"/>
<circle cx="855.5" cy="1127.67" r="6.45" fill="#fff" stroke="#000" stroke-width="3"/>
<circle cx="855.5" cy="1154.4" r="6.45" fill="#fff" stroke="#000" stroke-width="3"/>
<circle cx="855.5" cy="1181.13" r="6.45" fill="#fff" stroke="#000" stroke-width="3"/>
<circle cx="855.5" cy="1207.87" r="6.45" fill="#fff" stroke="#000" stroke-width="3"/>
<circle cx="855.5" cy="1234.6" r="6.45" fill="#fff" stroke="#000" stroke-width="3"/>
<circle cx="916.6" cy="1020.73" r="6.9" fill="#000"/>
<circle cx="916.6" cy="1074.2" r="6.9" fill="#000"/>
<circle cx="916.6" cy="1154.4" r="6.9" fill="#000"/>
<circle cx="916.6" cy="1181.13" r="6.9" fill="#000"/>
<circle cx="916.6" cy="1207.87" r="6.9" fill="#000"/>
<circle cx="916.6" cy="1234.6" r="6.9" fill="#000"/>
<text x="0" y="0" font-size="26.4" text-anchor="middle" fill="#231f20" transform="translate(578.7 1075.6) rotate(-90)">% Avoidance</text>
<line x1="706.9" y1="938.9" x2="767.2" y2="938.9" stroke="#000" stroke-width="3" stroke-linecap="butt"/>
<line x1="856.5" y1="938.9" x2="916.5" y2="938.9" stroke="#000" stroke-width="3" stroke-linecap="butt"/>
<path d="M736.4 938.9 V928.7 H891.1 V938.9" stroke="#000" stroke-width="3" fill="none" stroke-linejoin="round"/>
<text x="802.2" y="923.95" font-size="30" font-family="'DejaVu Sans', sans-serif" font-weight="bold" text-anchor="middle" fill="#000">&#8727;</text>
<text x="826" y="923.95" font-size="30" font-family="'DejaVu Sans', sans-serif" font-weight="bold" text-anchor="middle" fill="#000">&#8727;</text>
<text x="0" y="0" font-size="44" font-weight="bold" fill="#000" transform="translate(1017.6 918.8) scale(1 1.04)">H</text>
<rect x="1151.65" y="1146.38" width="51.5" height="88.22" fill="#fff" stroke="#000" stroke-width="3"/>
<rect x="1212.45" y="1108.42" width="51.5" height="126.18" fill="#fff" stroke="#000" stroke-width="3"/>
<rect x="1300.35" y="1111.63" width="51.5" height="122.97" fill="#d36530" stroke="#000" stroke-width="3"/>
<rect x="1361.35" y="1107.35" width="51.5" height="127.25" fill="#d36530" stroke="#000" stroke-width="3"/>
<line x1="1121.6" y1="913.8" x2="1121.6" y2="1236.3" stroke="#000" stroke-width="3.3" stroke-linecap="butt"/>
<line x1="1108" y1="1234.6" x2="1443.8" y2="1234.6" stroke="#000" stroke-width="3.3" stroke-linecap="butt"/>
<line x1="1108" y1="1234.6" x2="1121.6" y2="1234.6" stroke="#000" stroke-width="3.2" stroke-linecap="butt"/>
<text x="0" y="0" font-size="23" font-weight="bold" text-anchor="end" fill="#000" transform="translate(1104 1242.8) scale(1 1.05)">0.0</text>
<line x1="1108" y1="1127.67" x2="1121.6" y2="1127.67" stroke="#000" stroke-width="3.2" stroke-linecap="butt"/>
<text x="0" y="0" font-size="23" font-weight="bold" text-anchor="end" fill="#000" transform="translate(1104 1135.87) scale(1 1.05)">0.2</text>
<line x1="1108" y1="1020.73" x2="1121.6" y2="1020.73" stroke="#000" stroke-width="3.2" stroke-linecap="butt"/>
<text x="0" y="0" font-size="23" font-weight="bold" text-anchor="end" fill="#000" transform="translate(1104 1028.93) scale(1 1.05)">0.4</text>
<line x1="1108" y1="913.8" x2="1121.6" y2="913.8" stroke="#000" stroke-width="3.2" stroke-linecap="butt"/>
<text x="0" y="0" font-size="23" font-weight="bold" text-anchor="end" fill="#000" transform="translate(1104 922) scale(1 1.05)">0.6</text>
<line x1="1207.4" y1="1234.6" x2="1207.4" y2="1248.6" stroke="#000" stroke-width="3.3" stroke-linecap="butt"/>
<text x="0" y="0" font-size="24" font-weight="bold" text-anchor="middle" fill="#000" transform="translate(1207.9 1272.7) scale(1 1.05)">Control</text>
<line x1="1355.7" y1="1234.6" x2="1355.7" y2="1248.6" stroke="#000" stroke-width="3.3" stroke-linecap="butt"/>
<text x="0" y="0" font-size="24" font-weight="bold" text-anchor="middle" fill="#000" transform="translate(1356.2 1272.7) scale(1 1.05)">Stress</text>
<line x1="1177.4" y1="1126.06" x2="1177.4" y2="1163.49" stroke="#000" stroke-width="3" stroke-linecap="butt"/>
<line x1="1163.6" y1="1126.06" x2="1191.2" y2="1126.06" stroke="#000" stroke-width="3" stroke-linecap="butt"/>
<line x1="1163.6" y1="1163.49" x2="1191.2" y2="1163.49" stroke="#000" stroke-width="3" stroke-linecap="butt"/>
<line x1="1238.2" y1="1084.89" x2="1238.2" y2="1129.27" stroke="#000" stroke-width="3" stroke-linecap="butt"/>
<line x1="1224.4" y1="1084.89" x2="1252" y2="1084.89" stroke="#000" stroke-width="3" stroke-linecap="butt"/>
<line x1="1224.4" y1="1129.27" x2="1252" y2="1129.27" stroke="#000" stroke-width="3" stroke-linecap="butt"/>
<line x1="1326.1" y1="1090.77" x2="1326.1" y2="1128.74" stroke="#000" stroke-width="3" stroke-linecap="butt"/>
<line x1="1312.3" y1="1090.77" x2="1339.9" y2="1090.77" stroke="#000" stroke-width="3" stroke-linecap="butt"/>
<line x1="1312.3" y1="1128.74" x2="1339.9" y2="1128.74" stroke="#000" stroke-width="3" stroke-linecap="butt"/>
<line x1="1387.1" y1="1085.96" x2="1387.1" y2="1124.99" stroke="#000" stroke-width="3" stroke-linecap="butt"/>
<line x1="1373.3" y1="1085.96" x2="1400.9" y2="1085.96" stroke="#000" stroke-width="3" stroke-linecap="butt"/>
<line x1="1373.3" y1="1124.99" x2="1400.9" y2="1124.99" stroke="#000" stroke-width="3" stroke-linecap="butt"/>
<circle cx="1177.4" cy="1010.04" r="6.45" fill="#fff" stroke="#000" stroke-width="3"/>
<circle cx="1177.4" cy="1094.2" r="6.45" fill="#fff" stroke="#000" stroke-width="3"/>
<circle cx="1177.4" cy="1122.32" r="6.45" fill="#fff" stroke="#000" stroke-width="3"/>
<circle cx="1177.4" cy="1150.39" r="6.45" fill="#fff" stroke="#000" stroke-width="3"/>
<circle cx="1177.4" cy="1177.93" r="6.45" fill="#fff" stroke="#000" stroke-width="3"/>
<circle cx="1177.4" cy="1206" r="6.45" fill="#fff" stroke="#000" stroke-width="3"/>
<circle cx="1177.4" cy="1234.6" r="6.45" fill="#fff" stroke="#000" stroke-width="3"/>
<circle cx="1238.2" cy="1010.04" r="6.9" fill="#000"/>
<circle cx="1238.2" cy="1038.38" r="6.9" fill="#000"/>
<circle cx="1238.2" cy="1094.2" r="6.9" fill="#000"/>
<circle cx="1238.2" cy="1122.32" r="6.9" fill="#000"/>
<circle cx="1238.2" cy="1150.39" r="6.9" fill="#000"/>
<circle cx="1238.2" cy="1177.93" r="6.9" fill="#000"/>
<circle cx="1238.2" cy="1234.6" r="6.9" fill="#000"/>
<circle cx="1326.1" cy="925.56" r="6.45" fill="#fff" stroke="#000" stroke-width="3"/>
<circle cx="1326.1" cy="1010.04" r="6.45" fill="#fff" stroke="#000" stroke-width="3"/>
<circle cx="1326.1" cy="1038.38" r="6.45" fill="#fff" stroke="#000" stroke-width="3"/>
<circle cx="1326.1" cy="1066.18" r="6.45" fill="#fff" stroke="#000" stroke-width="3"/>
<circle cx="1326.1" cy="1094.2" r="6.45" fill="#fff" stroke="#000" stroke-width="3"/>
<circle cx="1326.1" cy="1122.32" r="6.45" fill="#fff" stroke="#000" stroke-width="3"/>
<circle cx="1326.1" cy="1150.39" r="6.45" fill="#fff" stroke="#000" stroke-width="3"/>
<circle cx="1326.1" cy="1177.93" r="6.45" fill="#fff" stroke="#000" stroke-width="3"/>
<circle cx="1326.1" cy="1206" r="6.45" fill="#fff" stroke="#000" stroke-width="3"/>
<circle cx="1387.1" cy="981.7" r="6.9" fill="#000"/>
<circle cx="1387.1" cy="1010.04" r="6.9" fill="#000"/>
<circle cx="1387.1" cy="1094.2" r="6.9" fill="#000"/>
<circle cx="1387.1" cy="1122.32" r="6.9" fill="#000"/>
<circle cx="1387.1" cy="1150.39" r="6.9" fill="#000"/>
<text x="0" y="0" font-size="26.6" text-anchor="middle" fill="#231f20" transform="translate(1052 1072) rotate(-90)">Fragmented care score</text>
<text x="0" y="0" font-size="44" font-weight="bold" fill="#000" transform="translate(1484.5 918.8) scale(1 1.04)">I</text>
<line x1="1614.3" y1="1074.6" x2="1922.5" y2="1074.6" stroke="#000" stroke-width="4.2" stroke-dasharray="0 9.613" stroke-linecap="round"/>
<line x1="1606" y1="914.5" x2="1606" y2="1236.4" stroke="#000" stroke-width="3.3" stroke-linecap="butt"/>
<line x1="1592.4" y1="1234.7" x2="1926" y2="1234.7" stroke="#000" stroke-width="3.3" stroke-linecap="butt"/>
<line x1="1592.4" y1="914.5" x2="1606" y2="914.5" stroke="#000" stroke-width="3.2" stroke-linecap="butt"/>
<text x="0" y="0" font-size="23" font-weight="bold" text-anchor="end" fill="#000" transform="translate(1588.4 922.7) scale(1 1.05)">1.0</text>
<line x1="1592.4" y1="994.55" x2="1606" y2="994.55" stroke="#000" stroke-width="3.2" stroke-linecap="butt"/>
<text x="0" y="0" font-size="23" font-weight="bold" text-anchor="end" fill="#000" transform="translate(1588.4 1002.75) scale(1 1.05)">0.5</text>
<line x1="1592.4" y1="1074.6" x2="1606" y2="1074.6" stroke="#000" stroke-width="3.2" stroke-linecap="butt"/>
<text x="0" y="0" font-size="23" font-weight="bold" text-anchor="end" fill="#000" transform="translate(1588.4 1082.8) scale(1 1.05)">0.0</text>
<line x1="1592.4" y1="1154.65" x2="1606" y2="1154.65" stroke="#000" stroke-width="3.2" stroke-linecap="butt"/>
<text x="0" y="0" font-size="23" font-weight="bold" text-anchor="end" fill="#000" transform="translate(1588.4 1162.85) scale(1 1.05)">-0.5</text>
<line x1="1592.4" y1="1234.7" x2="1606" y2="1234.7" stroke="#000" stroke-width="3.2" stroke-linecap="butt"/>
<text x="0" y="0" font-size="23" font-weight="bold" text-anchor="end" fill="#000" transform="translate(1588.4 1242.9) scale(1 1.05)">-1.0</text>
<line x1="1679" y1="1234.7" x2="1679" y2="1248.7" stroke="#000" stroke-width="3.3" stroke-linecap="butt"/>
<text x="0" y="0" font-size="24" font-weight="bold" text-anchor="middle" fill="#000" transform="translate(1679.5 1272.7) scale(1 1.05)">Control</text>
<line x1="1849.6" y1="1234.7" x2="1849.6" y2="1248.7" stroke="#000" stroke-width="3.3" stroke-linecap="butt"/>
<text x="0" y="0" font-size="24" font-weight="bold" text-anchor="middle" fill="#000" transform="translate(1850.1 1272.7) scale(1 1.05)">Stress</text>
<text x="0" y="0" font-size="26.4" text-anchor="middle" fill="#231f20" transform="translate(1506.2 1074.1) rotate(-90)">Maternal care</text>
<text x="0" y="0" font-size="26.4" text-anchor="middle" fill="#231f20" transform="translate(1538 1074.1) rotate(-90)">behavioral risk score</text>
<line x1="1647.9" y1="1156.25" x2="1647.9" y2="1188.27" stroke="#000" stroke-width="3.4" stroke-linecap="butt"/>
<line x1="1638.1" y1="1156.25" x2="1657.7" y2="1156.25" stroke="#000" stroke-width="3.4" stroke-linecap="butt"/>
<line x1="1638.1" y1="1188.27" x2="1657.7" y2="1188.27" stroke="#000" stroke-width="3.4" stroke-linecap="butt"/>
<circle cx="1647.9" cy="1172.26" r="9.4" fill="#fff" stroke="#000" stroke-width="3.4"/>
<line x1="1711.4" y1="1063.39" x2="1711.4" y2="1130.63" stroke="#000" stroke-width="3.4" stroke-linecap="butt"/>
<line x1="1701.6" y1="1063.39" x2="1721.2" y2="1063.39" stroke="#000" stroke-width="3.4" stroke-linecap="butt"/>
<line x1="1701.6" y1="1130.63" x2="1721.2" y2="1130.63" stroke="#000" stroke-width="3.4" stroke-linecap="butt"/>
<circle cx="1711.4" cy="1097.01" r="11.4" fill="#000"/>
<line x1="1818.5" y1="1044.18" x2="1818.5" y2="1084.21" stroke="#d36530" stroke-width="3.4" stroke-linecap="butt"/>
<line x1="1808.7" y1="1044.18" x2="1828.3" y2="1044.18" stroke="#d36530" stroke-width="3.4" stroke-linecap="butt"/>
<line x1="1808.7" y1="1084.21" x2="1828.3" y2="1084.21" stroke="#d36530" stroke-width="3.4" stroke-linecap="butt"/>
<circle cx="1818.5" cy="1063.39" r="9.4" fill="#fff" stroke="#d36530" stroke-width="3.4"/>
<line x1="1882" y1="967.33" x2="1882" y2="1052.19" stroke="#d36530" stroke-width="3.4" stroke-linecap="butt"/>
<line x1="1872.2" y1="967.33" x2="1891.8" y2="967.33" stroke="#d36530" stroke-width="3.4" stroke-linecap="butt"/>
<line x1="1872.2" y1="1052.19" x2="1891.8" y2="1052.19" stroke="#d36530" stroke-width="3.4" stroke-linecap="butt"/>
<circle cx="1882" cy="1010.56" r="11.4" fill="#d36530"/>
<line x1="1647.9" y1="938.9" x2="1711.4" y2="938.9" stroke="#000" stroke-width="3" stroke-linecap="butt"/>
<line x1="1818.5" y1="938.9" x2="1882" y2="938.9" stroke="#000" stroke-width="3" stroke-linecap="butt"/>
<path d="M1679 938.9 V928.8 H1852.8 V938.9" stroke="#000" stroke-width="3" fill="none" stroke-linejoin="round"/>
<text x="1757.5" y="923.95" font-size="30" font-family="'DejaVu Sans', sans-serif" font-weight="bold" text-anchor="middle" fill="#000">&#8727;</text>
<text x="1781" y="923.95" font-size="30" font-family="'DejaVu Sans', sans-serif" font-weight="bold" text-anchor="middle" fill="#000">&#8727;</text>
<circle cx="1714" cy="1173.4" r="6.5" fill="#fff" stroke="#000" stroke-width="3.3"/>
<circle cx="1734.6" cy="1173.4" r="6.5" fill="#fff" stroke="#d36530" stroke-width="3.5"/>
<circle cx="1714" cy="1206.1" r="6.9" fill="#000"/>
<circle cx="1734.6" cy="1206.1" r="6.9" fill="#d36530"/>
<text x="1748" y="1182.7" font-size="26.5" fill="#231f20">Saline</text>
<text x="1748" y="1216" font-size="26.5" fill="#231f20">Psilocybin</text>
<path d="M1829 1172.4 H1900.4 V1206.1 H1874" stroke="#231f20" stroke-width="3" fill="none" stroke-linejoin="round"/>
<text x="1914.7" y="1201.25" font-size="30" font-family="'DejaVu Sans', sans-serif" font-weight="bold" text-anchor="middle" fill="#000">&#8727;</text>
</svg>
</body></html>
